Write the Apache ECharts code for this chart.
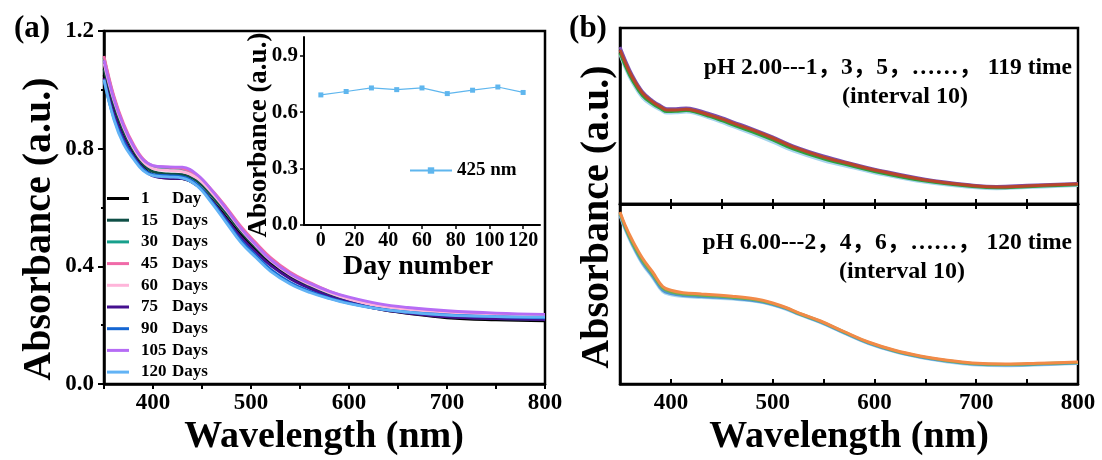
<!DOCTYPE html>
<html><head><meta charset="utf-8">
<script src="https://cdn.jsdelivr.net/npm/echarts@6/dist/echarts.min.js"></script>
<style>html,body{margin:0;padding:0;background:#fff}#c{width:1102px;height:460px}</style>
</head><body><div id="c"></div>
<script>
// ---------- Panel (a): spectra over storage days ----------
const wavelengthA = [350,360,370,380,390,400,415,430,445,460,475,490,505,520,540,560,580,600,630,660,700,750,800];
const day1   = [1.05,0.93,0.84,0.78,0.735,0.71,0.70,0.698,0.675,0.625,0.565,0.505,0.455,0.41,0.365,0.33,0.30,0.28,0.255,0.24,0.225,0.218,0.215];
const day15  = [1.07,0.95,0.86,0.795,0.748,0.722,0.714,0.712,0.69,0.64,0.58,0.518,0.465,0.418,0.37,0.335,0.305,0.283,0.258,0.243,0.229,0.222,0.219];
const day30  = [1.11,0.975,0.878,0.808,0.758,0.735,0.73,0.727,0.703,0.655,0.595,0.53,0.475,0.425,0.375,0.34,0.31,0.287,0.262,0.248,0.236,0.229,0.225];
const day45  = [1.115,0.98,0.885,0.815,0.765,0.742,0.737,0.733,0.71,0.66,0.60,0.535,0.48,0.43,0.38,0.345,0.315,0.293,0.27,0.256,0.245,0.238,0.233];
const day60  = [1.09,0.965,0.872,0.803,0.755,0.732,0.726,0.722,0.70,0.65,0.59,0.525,0.47,0.42,0.372,0.338,0.31,0.288,0.265,0.252,0.24,0.232,0.228];
const day75  = [1.04,0.92,0.835,0.775,0.732,0.707,0.70,0.698,0.675,0.622,0.56,0.498,0.448,0.403,0.358,0.325,0.298,0.278,0.255,0.241,0.228,0.222,0.219];
const day90  = [1.03,0.905,0.825,0.77,0.73,0.712,0.708,0.704,0.678,0.62,0.553,0.487,0.437,0.39,0.345,0.315,0.292,0.275,0.256,0.244,0.235,0.229,0.225];
const day105 = [1.10,0.97,0.878,0.81,0.762,0.742,0.738,0.737,0.712,0.658,0.595,0.528,0.473,0.423,0.375,0.342,0.315,0.295,0.273,0.26,0.249,0.241,0.237];
const day120 = [1.035,0.90,0.815,0.765,0.725,0.708,0.704,0.70,0.673,0.615,0.547,0.48,0.43,0.383,0.34,0.311,0.29,0.273,0.255,0.244,0.234,0.229,0.227];
const seriesNamesA = ['1 Day','15 Days','30 Days','45 Days','60 Days','75 Days','90 Days','105 Days','120 Days'];
const seriesDataA = [day1,day15,day30,day45,day60,day75,day90,day105,day120];
const colorsA = ['#000000','#0f4f46','#17a08c','#f06aa8','#ffb5da','#45108f','#1566d2','#b66cf5','#62b3f5'];

// ---------- Inset: absorbance at 425 nm ----------
const insetDays = [0,15,30,45,60,75,90,105,120];
const inset425 = [0.692,0.710,0.729,0.720,0.729,0.699,0.717,0.734,0.705];
const insetXTicks = [0,20,40,60,80,100,120];
const insetYTicks = [0,0.3,0.6,0.9];

// ---------- Panel (b) top: pH 2.00 ----------
const wavelengthB1 = [350,355,362,372,382,390,396,405,415,425,438,450,461,480,500,520,550,580,600,650,700,720,750,800];
const ph2LightBlue = [1.02,0.93,0.83,0.725,0.67,0.64,0.62,0.622,0.627,0.615,0.586,0.556,0.527,0.478,0.422,0.362,0.295,0.245,0.212,0.148,0.11,0.104,0.112,0.126];
const ph2Green     = [1.03,0.945,0.845,0.74,0.683,0.65,0.63,0.632,0.637,0.625,0.597,0.568,0.54,0.492,0.437,0.376,0.308,0.256,0.222,0.156,0.117,0.11,0.118,0.131];
const ph2Purple    = [1.07,0.985,0.88,0.768,0.705,0.67,0.65,0.65,0.655,0.643,0.616,0.588,0.56,0.512,0.457,0.396,0.327,0.272,0.238,0.169,0.127,0.12,0.127,0.139];
const ph2Red       = [1.05,0.968,0.866,0.757,0.696,0.662,0.641,0.641,0.646,0.634,0.607,0.58,0.552,0.505,0.45,0.389,0.32,0.266,0.232,0.164,0.123,0.116,0.123,0.136];
const seriesDataB1 = [ph2LightBlue,ph2Green,ph2Purple,ph2Red];
const colorsB1 = ['#a6d5ee','#2f9e3c','#7b4fb0','#b8452c'];

// ---------- Panel (b) bottom: pH 6.00 ----------
const wavelengthB2 = [350,355,362,372,382,392,400,412,430,445,460,477,490,500,513,526,547,570,594,620,645,670,696,729,760,800];
const ph6LightBlue = [1.125,1.03,0.925,0.80,0.71,0.615,0.595,0.583,0.577,0.572,0.566,0.556,0.543,0.526,0.498,0.462,0.409,0.339,0.269,0.214,0.176,0.149,0.129,0.122,0.127,0.137];
const ph6Blue      = [1.13,1.04,0.935,0.81,0.72,0.625,0.603,0.59,0.583,0.578,0.571,0.56,0.547,0.53,0.502,0.466,0.413,0.343,0.273,0.218,0.18,0.153,0.133,0.126,0.131,0.14];
const ph6Green     = [1.14,1.05,0.945,0.825,0.735,0.64,0.615,0.60,0.592,0.586,0.579,0.568,0.553,0.536,0.507,0.47,0.417,0.347,0.277,0.222,0.184,0.157,0.137,0.13,0.135,0.144];
const ph6Orange    = [1.147,1.06,0.96,0.84,0.747,0.65,0.625,0.609,0.60,0.593,0.585,0.573,0.558,0.54,0.51,0.473,0.42,0.35,0.28,0.225,0.187,0.16,0.14,0.133,0.138,0.147];
const seriesDataB2 = [ph6LightBlue,ph6Blue,ph6Green,ph6Orange];
const colorsB2 = ['#a9d6ee','#4f97d2','#6cb04e','#f28a48'];

const FONT = "'Liberation Serif','Times New Roman','Noto Sans CJK SC',serif";
const txt = (size) => ({fontFamily: FONT, fontWeight: 'bold', fontSize: size, color: '#000'});
const blackLine = (w) => ({color: '#000', width: w});

const chart = echarts.init(document.getElementById('c'), null, {renderer: 'canvas'});

const series = [];
seriesDataA.forEach((arr, i) => {
  series.push({
    name: seriesNamesA[i], type: 'line', xAxisIndex: 0, yAxisIndex: 0,
    data: wavelengthA.map((w, k) => [w, arr[k]]),
    smooth: 0.4, showSymbol: false, symbol: 'none',
    lineStyle: {width: 2.8, color: colorsA[i]}, itemStyle: {color: colorsA[i]}, z: 2
  });
});
series.push({
  name: '425 nm', type: 'line', xAxisIndex: 1, yAxisIndex: 1,
  data: insetDays.map((d, k) => [d, inset425[k]]),
  symbol: 'rect', symbolSize: 5,
  lineStyle: {width: 1.2, color: '#5fb6ee'}, itemStyle: {color: '#5fb6ee'}, z: 5
});
seriesDataB1.forEach((arr, i) => {
  series.push({
    name: 'ph2_' + i, type: 'line', xAxisIndex: 2, yAxisIndex: 2,
    data: wavelengthB1.map((w, k) => [w, arr[k]]),
    smooth: 0.4, symbol: 'none',
    lineStyle: {width: 3, color: colorsB1[i]}, z: 2
  });
});
seriesDataB2.forEach((arr, i) => {
  series.push({
    name: 'ph6_' + i, type: 'line', xAxisIndex: 3, yAxisIndex: 3,
    data: wavelengthB2.map((w, k) => [w, arr[k]]),
    smooth: 0.4, symbol: 'none',
    lineStyle: {width: 3, color: colorsB2[i]}, z: 2
  });
});

const option = {
  backgroundColor: '#fff',
  animation: false,
  grid: [
    {left: 104, top: 31, width: 441, height: 353, show: true, borderColor: '#000', borderWidth: 2.5, backgroundColor: 'transparent'},
    {left: 304, top: 37, width: 236, height: 188},
    {left: 620, top: 28, width: 458, height: 176, show: true, borderColor: '#000', borderWidth: 2.5, backgroundColor: 'transparent'},
    {left: 620, top: 204, width: 458, height: 180, show: true, borderColor: '#000', borderWidth: 2.5, backgroundColor: 'transparent'}
  ],
  xAxis: [
    {gridIndex: 0, type: 'value', min: 350, max: 800, interval: 50,
     axisLine: {onZero: false, lineStyle: blackLine(2.5)}, axisTick: {inside: false, length: 5, lineStyle: blackLine(2)},
     axisLabel: Object.assign(txt(23), {margin: 8, formatter: v => (v % 100 === 0 ? String(v) : '')}),
     splitLine: {show: false}},
    {gridIndex: 1, type: 'value', min: -10, max: 130,
     axisLine: {onZero: false, lineStyle: blackLine(2)},
     axisTick: {inside: false, length: 4, lineStyle: blackLine(1.5), customValues: insetXTicks},
     axisLabel: Object.assign(txt(20), {margin: 6, customValues: insetXTicks}),
     splitLine: {show: false}},
    {gridIndex: 2, type: 'value', min: 350, max: 800, interval: 50,
     axisLine: {onZero: false, lineStyle: blackLine(2.5)}, axisTick: {inside: true, length: 5, lineStyle: blackLine(2)},
     axisLabel: {show: false}, splitLine: {show: false}},
    {gridIndex: 3, type: 'value', min: 350, max: 800, interval: 50,
     axisLine: {onZero: false, lineStyle: blackLine(2.5)}, axisTick: {inside: true, length: 5, lineStyle: blackLine(2)},
     axisLabel: Object.assign(txt(23), {margin: 8, formatter: v => (v % 100 === 0 ? String(v) : '')}),
     splitLine: {show: false}},
    {gridIndex: 3, type: 'value', position: 'top', min: 350, max: 800, interval: 50,
     axisLine: {onZero: false, lineStyle: blackLine(2.5)}, axisTick: {inside: true, length: 5, lineStyle: blackLine(2)},
     axisLabel: {show: false}, splitLine: {show: false}}
  ],
  yAxis: [
    {gridIndex: 0, type: 'value', min: 0, max: 1.2, interval: 0.4,
     axisLine: {show: true, onZero: false, lineStyle: blackLine(2.5)},
     axisTick: {show: true, inside: false, length: 6, lineStyle: blackLine(2)},
     minorTick: {show: true, splitNumber: 2, length: 3, lineStyle: blackLine(2)},
     axisLabel: Object.assign(txt(23), {margin: 10, formatter: v => v.toFixed(1)}),
     splitLine: {show: false}},
    {gridIndex: 1, type: 'value', min: 0, max: 1.0,
     axisLine: {show: true, onZero: false, lineStyle: blackLine(2)},
     axisTick: {show: true, inside: false, length: 4, lineStyle: blackLine(1.5), customValues: insetYTicks},
     axisLabel: Object.assign(txt(21), {margin: 6, customValues: insetYTicks, formatter: v => v.toFixed(1)}),
     splitLine: {show: false}},
    {gridIndex: 2, type: 'value', min: 0, max: 1.2,
     axisLine: {show: true, onZero: false, lineStyle: blackLine(2.5)}, axisTick: {show: false},
     axisLabel: {show: false}, splitLine: {show: false}},
    {gridIndex: 3, type: 'value', min: 0, max: 1.2,
     axisLine: {show: true, onZero: false, lineStyle: blackLine(2.5)}, axisTick: {show: false},
     axisLabel: {show: false}, splitLine: {show: false}}
  ],
  legend: [
    {data: seriesNamesA, orient: 'vertical', left: 107, top: 190, itemGap: 4.7,
     itemWidth: 22, itemHeight: 3, icon: 'rect', padding: 0,
     formatter: name => { const p = name.split(' '); return '{n|' + p[0] + '}{d|' + p[1] + '}'; },
     textStyle: {rich: {
       n: {fontFamily: FONT, fontWeight: 'bold', fontSize: 17, color: '#000', width: 31, padding: [0,0,0,7], lineHeight: 17},
       d: {fontFamily: FONT, fontWeight: 'bold', fontSize: 17, color: '#000', lineHeight: 17}
     }}},
    {data: ['425 nm'], left: 409, top: 161, itemWidth: 42, itemHeight: 8, padding: 0,
     textStyle: txt(19)}
  ],
  graphic: [
    {type: 'text', x: 32, y: 29, style: {text: '(a)', font: 'bold 31px ' + FONT, fill: '#000', textAlign: 'center', textVerticalAlign: 'middle'}},
    {type: 'text', x: 588, y: 29, style: {text: '(b)', font: 'bold 31px ' + FONT, fill: '#000', textAlign: 'center', textVerticalAlign: 'middle'}},
    {type: 'text', x: 40, y: 229, rotation: Math.PI / 2, style: {text: 'Absorbance (a.u.)', font: 'bold 40px ' + FONT, fill: '#000', textAlign: 'center', textVerticalAlign: 'middle'}},
    {type: 'text', x: 598, y: 217, rotation: Math.PI / 2, style: {text: 'Absorbance (a.u.)', font: 'bold 40px ' + FONT, fill: '#000', textAlign: 'center', textVerticalAlign: 'middle'}},
    {type: 'text', x: 324, y: 437, style: {text: 'Wavelength (nm)', font: 'bold 38px ' + FONT, fill: '#000', textAlign: 'center', textVerticalAlign: 'middle'}},
    {type: 'text', x: 849, y: 437, style: {text: 'Wavelength (nm)', font: 'bold 38px ' + FONT, fill: '#000', textAlign: 'center', textVerticalAlign: 'middle'}},
    {type: 'text', x: 259, y: 135, rotation: Math.PI / 2, style: {text: 'Absorbance (a.u.)', font: 'bold 27px ' + FONT, fill: '#000', textAlign: 'center', textVerticalAlign: 'middle'}},
    {type: 'text', x: 418, y: 267, style: {text: 'Day number', font: 'bold 28px ' + FONT, fill: '#000', textAlign: 'center', textVerticalAlign: 'middle'}},
    {type: 'text', x: 1072, y: 68, style: {text: 'pH 2.00---1，3，5，……， 119 time', font: 'bold 23.5px ' + FONT, fill: '#000', textAlign: 'right', textVerticalAlign: 'middle'}},
    {type: 'text', x: 905, y: 97, style: {text: '(interval 10)', font: 'bold 24px ' + FONT, fill: '#000', textAlign: 'center', textVerticalAlign: 'middle'}},
    {type: 'text', x: 1072, y: 243, style: {text: 'pH 6.00---2，4，6，……， 120 time', font: 'bold 23.5px ' + FONT, fill: '#000', textAlign: 'right', textVerticalAlign: 'middle'}},
    {type: 'text', x: 902, y: 272, style: {text: '(interval 10)', font: 'bold 24px ' + FONT, fill: '#000', textAlign: 'center', textVerticalAlign: 'middle'}}
  ],
  series: series
};
chart.setOption(option);
</script>
</body></html>
